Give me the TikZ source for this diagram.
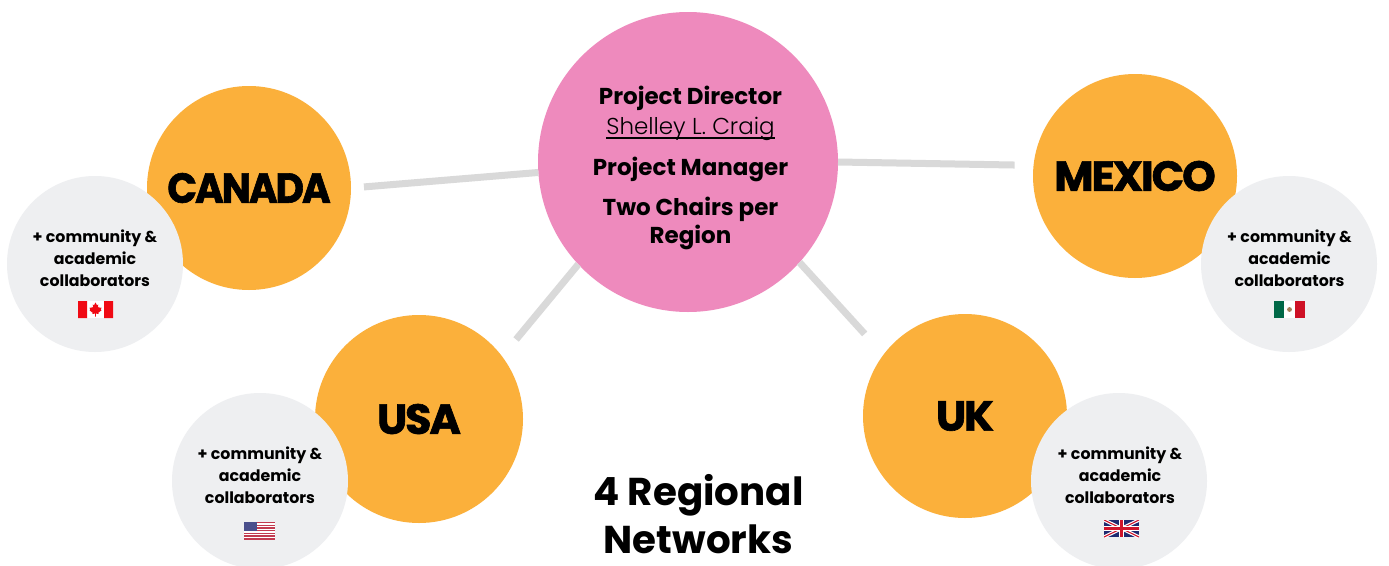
\documentclass[tikz,border=0pt]{standalone}
\usepackage{fontspec}
\setmainfont{Poppins}
\newfontfamily\popb{Poppins Bold}
\newfontfamily\poplight{Poppins Light}
\newfontfamily\pophead[LetterSpace=-5,FakeStretch=1.02,FakeBold=1.5]{Poppins Bold}
\newfontfamily\popheadn[LetterSpace=-5,FakeStretch=0.93,FakeBold=1.5]{Poppins Bold}
\newcommand\thickul[1]{\setbox0\hbox{#1}\leavevmode\rlap{\rule[-4.5pt]{\wd0}{1.6pt}}\box0}
\definecolor{orangec}{HTML}{FBB03B}
\definecolor{pinkc}{HTML}{EE8ABD}
\definecolor{grayc}{HTML}{EEEFF1}
\definecolor{linkc}{HTML}{D9D9D9}
\definecolor{mxgreen}{HTML}{006847}
\definecolor{mxred}{HTML}{CE1126}
\definecolor{cared}{HTML}{F00A14}
\definecolor{usred}{HTML}{C23B50}
\definecolor{usblue}{HTML}{4A4F8C}
\definecolor{ukblue}{HTML}{1F2A70}
\definecolor{ukred}{HTML}{CF142B}
\tikzset{
  hub/.style={circle,fill=pinkc,minimum size=300pt,inner sep=0pt,outer sep=0pt},
  country/.style={circle,fill=orangec,inner sep=0pt,outer sep=0pt,text=black,font=\pophead\fontsize{42}{42}\selectfont},
  collab/.style={circle,fill=grayc,minimum size=176pt,inner sep=0pt,outer sep=0pt},
  collabtext/.style={align=center,text=black,font=\popb\fontsize{15.8}{22}\selectfont},
  hubtext/.style={align=center,text=black,font=\popb\fontsize{23}{28}\selectfont},
  titletext/.style={align=center,text=black,inner sep=0pt,outer sep=0pt,font=\popb\fontsize{38.8}{48}\selectfont},
  link/.style={draw=linkc,line width=7pt}
}
\begin{document}
\begin{tikzpicture}[x=1pt,y=-1pt]
\useasboundingbox (0,0) rectangle (1389,565);
\fill[white] (0,0) rectangle (1389,565);
% hub and regions
\node[hub] (director) at (688,162) {};
\node[country,minimum size=204pt,font=\popheadn\fontsize{42}{42}\selectfont] (canada) at (249,188) {CANADA};
\node[country,minimum size=204pt] (mexico) at (1135,176) {MEXICO};
\node[country,minimum size=208pt] (usa) at (419,419) {USA};
\node[country,minimum size=204pt] (uk) at (965,416) {UK};
% connectors
\draw[link,shorten >=13pt] (director.184) -- (canada.east);
\draw[link,shorten >=19pt] (director.east) -- (mexico.174);
\draw[link,shorten >=22pt] (director.223) -- (usa.37);
\draw[link,shorten >=28pt] (director.-42.5) -- (uk.143.7);
% collaborator circles
\node[collab] (gcanada) at (95,264) {};
\node[collab] (gmexico) at (1289,264) {};
\node[collab] (gusa) at (260,481) {};
\node[collab] (guk) at (1119,481) {};
\node[collabtext] (tcanada) at (95,258) {+ community \&\\academic\\collaborators};
\node[collabtext] (tmexico) at (1289.5,258) {+ community \&\\academic\\collaborators};
\node[collabtext] (tusa) at (260,475) {+ community \&\\academic\\collaborators};
\node[collabtext] (tuk) at (1120,475) {+ community \&\\academic\\collaborators};
\node[hubtext] (thub) at (690.5,168) {Project Director\\[2pt]{\poplight\thickul{Shelley L. Craig}}\\[13pt]Project Manager\\[12pt]Two Chairs per\\Region};
\node[titletext] (title) at (698.5,514) {4 Regional\\Networks};
% Canada flag
\fill[white] (78,301) rectangle (113,318);
\fill[cared] (78,301) rectangle (87,318) (104,301) rectangle (113,318);
\begin{scope}[shift={(95.5,309.5)}]
\fill[cared] (0,-7)--(-1.4,-4.3)--(-2.8,-5)--(-2.2,-1.5)--(-3.6,-2.8)--(-4,-1.6)--(-6,-2)--(-5.3,0.2)--(-6,0.8)--(-2.8,3.3)--(-3.2,4.5)--(-0.3,4)--(-0.3,7)--(0.3,7)--(0.3,4)--(3.2,4.5)--(2.8,3.3)--(6,0.8)--(5.3,0.2)--(6,-2)--(4,-1.6)--(3.6,-2.8)--(2.2,-1.5)--(2.8,-5)--(1.4,-4.3)--cycle;
\end{scope}
% Mexico flag
\fill[white] (1274,301) rectangle (1305,318);
\fill[mxgreen] (1274,301) rectangle (1284.3,318);
\fill[mxred] (1294.7,301) rectangle (1305,318);
\fill[brown!60!gray] (1289.5,309.5) circle (2.4pt);
% USA flag
\fill[white] (244,522) rectangle (275,539.5);
\foreach \s in {0,2,4,6,8,10,12}{
  \fill[usred] (244,{522+\s*1.346}) rectangle (275,{522+(\s+1)*1.346});
}
\fill[usblue] (244,522) rectangle (257,531.4);
% UK flag
\begin{scope}
\clip (1104,520) rectangle (1139,537);
\fill[ukblue] (1104,520) rectangle (1139,537);
\draw[white,line width=3.4pt] (1104,520)--(1139,537) (1104,537)--(1139,520);
\draw[ukred,line width=1.1pt] (1104,520)--(1139,537) (1104,537)--(1139,520);
\draw[white,line width=5.6pt] (1121.5,520)--(1121.5,537) (1104,528.5)--(1139,528.5);
\draw[ukred,line width=3.4pt] (1121.5,520)--(1121.5,537) (1104,528.5)--(1139,528.5);
\end{scope}
\end{tikzpicture}
\end{document}
